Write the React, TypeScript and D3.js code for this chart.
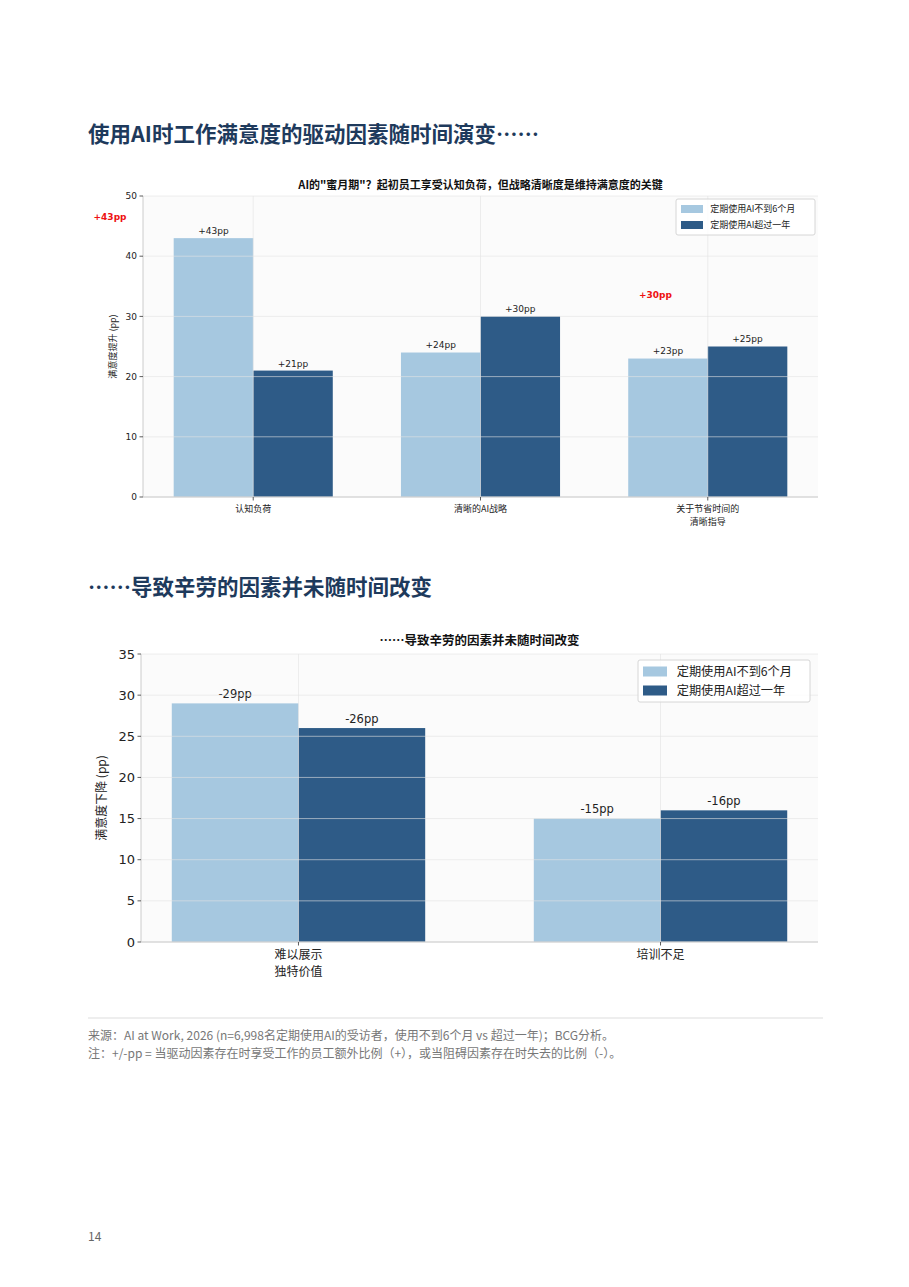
import React from "react";
import * as d3 from "d3";

const series = ["定期使用AI不到6个月", "定期使用AI超过一年"];
const colors = ["#a6c8e0", "#2e5b87"];

const cats1 = [["认知负荷"], ["清晰的AI战略"], ["关于节省时间的", "清晰指导"]];
const short1 = [43, 24, 23];
const long1 = [21, 30, 25];
const ticks1 = [0, 10, 20, 30, 40, 50];
const redNotes1 = [
  { text: "+43pp", x: -0.63, y: 46.5 },
  { text: "+30pp", x: 1.77, y: 33.5 },
];

const cats2 = [["难以展示", "独特价值"], ["培训不足"]];
const short2 = [29, 15];
const long2 = [26, 16];
const ticks2 = [0, 5, 10, 15, 20, 25, 30, 35];

const FONT = "'DejaVu Sans', 'Noto Sans CJK SC', sans-serif";
const CJK = "'Noto Sans CJK SC', 'DejaVu Sans', sans-serif";

type ChartProps = {
  cats: string[][];
  a: number[];
  b: number[];
  ticks: number[];
  yMax: number;
  xDom: [number, number];
  left: number;
  right: number;
  top: number;
  bottom: number;
  title: string;
  titleY: number;
  titleSize: number;
  ylabel: string;
  ylabelX: number;
  tickSize: number;
  labelSize: number;
  valSize: number;
  sign: string;
  legend: { x: number; y: number; w: number; h: number; size: number; pw: number; ph: number; rowH: number };
  xLabelY: number;
  xLabelLH: number;
  notes?: { text: string; x: number; y: number }[];
};

function Chart(p: ChartProps) {
  const x = d3.scaleLinear().domain(p.xDom).range([p.left, p.right]);
  const y = d3.scaleLinear().domain([0, p.yMax]).range([p.bottom, p.top]);
  const w = 0.35;
  const bw = x(w) - x(0);
  const data = [p.a, p.b];
  return (
    <g>
      <rect x={p.left} y={p.top} width={p.right - p.left} height={p.bottom - p.top} fill="#fbfbfb" />
      <text x={(p.left + p.right) / 2} y={p.titleY} textAnchor="middle" fontFamily={CJK} fontWeight="bold" fontSize={p.titleSize} fill="#111">
        {p.title}
      </text>
      {data.map((vals, si) =>
        vals.map((v, i) => {
          const x0 = si === 0 ? x(i - w) : x(i);
          return (
            <g key={`${si}-${i}`}>
              <rect x={x0} y={y(v)} width={bw} height={y(0) - y(v)} fill={colors[si]} />
              <text x={x0 + bw / 2} y={y(v) - p.valSize * 0.45} textAnchor="middle" fontFamily={FONT} fontSize={p.valSize} fill="#222">
                {`${p.sign}${v}pp`}
              </text>
            </g>
          );
        })
      )}
      {p.ticks.map((t) => (
        <line key={`h${t}`} x1={p.left} x2={p.right} y1={y(t)} y2={y(t)} stroke="#e2e2e2" strokeOpacity={0.6} strokeWidth={1} />
      ))}
      {p.cats.map((_, i) => (
        <line key={`v${i}`} x1={x(i)} x2={x(i)} y1={p.top} y2={p.bottom} stroke="#e2e2e2" strokeOpacity={0.6} strokeWidth={1} />
      ))}
      <line x1={p.left} x2={p.left} y1={p.top} y2={p.bottom} stroke="#cccccc" strokeWidth={1} />
      <line x1={p.left} x2={p.right} y1={p.bottom} y2={p.bottom} stroke="#cccccc" strokeWidth={1} />
      {p.ticks.map((t) => (
        <g key={`t${t}`}>
          <line x1={p.left - 3.5} x2={p.left} y1={y(t)} y2={y(t)} stroke="#333" strokeWidth={0.8} />
          <text x={p.left - 6} y={y(t)} dy="0.35em" textAnchor="end" fontFamily={FONT} fontSize={p.tickSize} fill="#222">
            {t}
          </text>
        </g>
      ))}
      {p.cats.map((c, i) => (
        <g key={`c${i}`}>
          <line x1={x(i)} x2={x(i)} y1={p.bottom} y2={p.bottom + 3.5} stroke="#333" strokeWidth={0.8} />
          {c.map((line, li) => (
            <text key={li} x={x(i)} y={p.xLabelY + li * p.xLabelLH} textAnchor="middle" fontFamily={CJK} fontSize={p.labelSize} fill="#222">
              {line}
            </text>
          ))}
        </g>
      ))}
      <text transform={`translate(${p.ylabelX},${(p.top + p.bottom) / 2}) rotate(-90)`} textAnchor="middle" fontFamily={CJK} fontSize={p.labelSize} fill="#222">
        {p.ylabel}
      </text>
      {(p.notes || []).map((n, i) => (
        <text key={`n${i}`} x={x(n.x)} y={y(n.y)} dy="0.35em" textAnchor="middle" fontFamily={FONT} fontWeight="bold" fontSize={p.valSize} fill="#ee1111">
          {n.text}
        </text>
      ))}
      <g>
        <rect x={p.legend.x} y={p.legend.y} width={p.legend.w} height={p.legend.h} fill="#ffffff" fillOpacity={0.85} stroke="#d6d6d6" rx={2} />
        {series.map((s, i) => {
          const cy = p.legend.y + p.legend.h / 2 + (i - 0.5) * p.legend.rowH;
          return (
            <g key={s}>
              <rect x={p.legend.x + 5} y={cy - p.legend.ph / 2} width={p.legend.pw} height={p.legend.ph} fill={colors[i]} />
              <text x={p.legend.x + 5 + p.legend.pw + p.legend.size * 0.8} y={cy} dy="0.35em" fontFamily={CJK} fontSize={p.legend.size} fill="#222">
                {s}
              </text>
            </g>
          );
        })}
      </g>
    </g>
  );
}

export default function App() {
  return (
    <div style={{ position: "absolute", left: 0, top: 0, width: 909, height: 1287, background: "#fff" }}>
      <svg width={909} height={1287} viewBox="0 0 909 1287">
        <rect width={909} height={1287} fill="#fff" />
        <text x={88} y={142} fontFamily={CJK} fontWeight="bold" fontSize={21.5} fill="#1e3a5c">
          使用AI时工作满意度的驱动因素随时间演变……
        </text>
        <Chart
          cats={cats1}
          a={short1}
          b={long1}
          ticks={ticks1}
          yMax={50}
          xDom={[-0.485, 2.485]}
          left={143}
          right={818}
          top={196}
          bottom={497}
          title={'AI的"蜜月期"？起初员工享受认知负荷，但战略清晰度是维持满意度的关键'}
          titleY={189}
          titleSize={11}
          ylabel="满意度提升 (pp)"
          ylabelX={116}
          tickSize={9}
          labelSize={9}
          valSize={9}
          sign="+"
          legend={{ x: 676, y: 199, w: 139, h: 36, size: 9, pw: 22, ph: 8, rowH: 16 }}
          xLabelY={512}
          xLabelLH={13}
          notes={redNotes1}
        />
        <text x={88} y={595} fontFamily={CJK} fontWeight="bold" fontSize={21.5} fill="#1e3a5c">
          ……导致辛劳的因素并未随时间改变
        </text>
        <Chart
          cats={cats2}
          a={short2}
          b={long2}
          ticks={ticks2}
          yMax={35}
          xDom={[-0.435, 1.435]}
          left={141}
          right={818}
          top={654}
          bottom={942}
          title="……导致辛劳的因素并未随时间改变"
          titleY={645}
          titleSize={12.5}
          ylabel="满意度下降 (pp)"
          ylabelX={106}
          tickSize={13}
          labelSize={12}
          valSize={11.5}
          sign="-"
          legend={{ x: 638, y: 660, w: 172, h: 42, size: 12.2, pw: 24, ph: 10, rowH: 19 }}
          xLabelY={959}
          xLabelLH={16.5}
        />
        <line x1={88} x2={823} y1={1018} y2={1018} stroke="#dddddd" strokeWidth={1} />
        <text x={88} y={1040} fontFamily={CJK} fontSize={12} fill="#777">
          来源：AI at Work, 2026 (n=6,998名定期使用AI的受访者，使用不到6个月 vs 超过一年)；BCG分析。
        </text>
        <text x={88} y={1058} fontFamily={CJK} fontSize={12} fill="#777">
          注：+/-pp = 当驱动因素存在时享受工作的员工额外比例（+），或当阻碍因素存在时失去的比例（-）。
        </text>
        <text x={88} y={1241} fontFamily={CJK} fontSize={12} fill="#666">
          14
        </text>
      </svg>
    </div>
  );
}
